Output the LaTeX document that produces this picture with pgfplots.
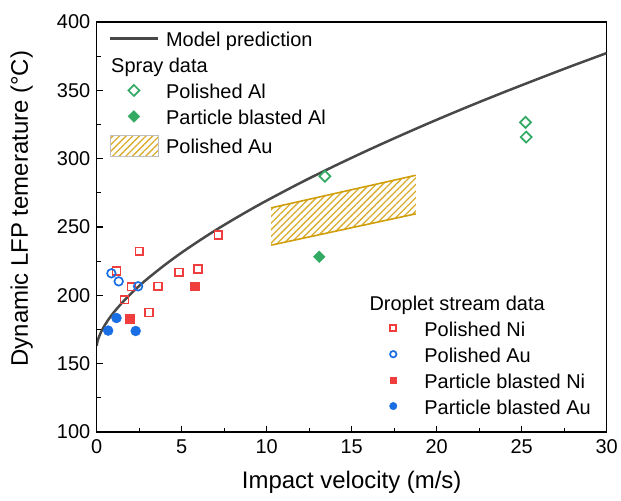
\documentclass[border=0pt]{standalone}
\usepackage{pgfplots}
\pgfplotsset{compat=1.18}
\usepackage{fontspec}
\setmainfont{Liberation Sans}
\usetikzlibrary{patterns.meta}
\definecolor{modelgray}{RGB}{72,72,72}
\definecolor{sprgreen}{RGB}{50,170,100}
\definecolor{nired}{RGB}{240,62,62}
\definecolor{aublue}{RGB}{26,110,228}
\definecolor{hatchline}{RGB}{218,172,45}
\definecolor{hatchedge}{RGB}{208,158,10}

\pgfplotsset{
  legline/.style={legend image code/.code={\draw[##1] (0bp,3bp) -- (48bp,3bp);}},
  legmark/.style={legend image code/.code={\path (0bp,0bp) (48bp,0bp); \draw[##1] plot coordinates {(24bp,3bp)};}},
  legmarksmall/.style={legend image code/.code={\path (0bp,0bp) (48bp,0bp); \draw[##1, every mark/.append style={scale=0.75}] plot coordinates {(24bp,3bp)};}},
  leghatch/.style={legend image code/.code={\path (0bp,0bp) (48bp,0bp); \draw[draw=gray!50,line width=0.6bp,pattern={Lines[angle=45,distance=4.7bp,line width=1.3bp]},pattern color=hatchline] (0bp,-8.5bp) rectangle (48bp,12.5bp);}},
  baseaxis/.style={
    width=511bp, height=411bp, scale only axis,
    xmin=0, xmax=30, ymin=100, ymax=400,
    xtick={0,5,...,30}, ytick={100,150,...,400},
    minor tick num=1,
    tick align=inside,
    xtick pos=bottom, ytick pos=left,
    major tick length=6bp, minor tick length=4bp,
    every tick/.style={black, line width=1.2bp},
    axis line style={black, line width=1.3bp},
    /pgf/number format/assume math mode=true,
    tick label style={font=\fontsize{20bp}{24bp}\selectfont},
    xticklabel style={yshift=-4bp},
    yticklabel style={xshift=-3bp},
    legend style={draw=none, fill=none, inner sep=0pt, outer sep=0pt,
      column sep=7bp, row sep=6bp,
      font=\fontsize{20bp}{24bp}\selectfont,
      nodes={inner sep=0pt, text height=15bp, text depth=5bp}},
    legend cell align=left,
  },
}

\begin{document}
\begin{tikzpicture}
\begin{axis}[baseaxis, name=ax,
  xlabel={Impact velocity (m/s)},
  ylabel={Dynamic LFP temerature (°C)},
  label style={font=\fontsize{24bp}{28bp}\selectfont},
  xlabel style={at={(axis description cs:0.5,-0.1387)}, anchor=base},
  ylabel style={at={(axis description cs:-0.135,0.545)}, anchor=base, rotate=0},
  legend style={at={(axis description cs:0.0235,0.9764)}, anchor=north west},
]
\addplot[modelgray, line width=2.5bp, smooth, legline] coordinates {
(0,163.0) (0.02,165.0) (0.05,166.6) (0.1,168.6) (0.25,173.1) (0.5,178.7)
(0.75,183.4) (1,187.5) (1.5,194.7) (2,201.1) (2.5,206.9) (3,212.3)
(4,222.2) (5,231.3) (6,239.7) (7,247.7) (8,255.2) (9,262.4) (10,269.3)
(12,282.4) (14,294.7) (16,306.4) (18,317.6) (20,328.4) (22,338.8)
(24,348.8) (26,358.5) (28,368.0) (30,377.2)};
\addlegendentry{Model prediction}
\addlegendimage{empty legend}
\addlegendentry{\hspace*{-55bp}Spray data}
\addplot[only marks, mark=square, mark size=3.9bp,
  mark options={rotate=45, draw=sprgreen, fill=white, line width=1.7bp}, legmark]
  coordinates {(13.42,287.1) (25.23,326.5) (25.27,315.8)};
\addlegendentry{Polished Al}
\addplot[only marks, mark=square*, mark size=4.2bp,
  mark options={rotate=45, draw=sprgreen, fill=sprgreen}, legmark]
  coordinates {(13.09,228.2)};
\addlegendentry{Particle blasted Al}
\addplot[draw=none, pattern={Lines[angle=45,distance=4.7bp,line width=1.3bp]},
  pattern color=hatchline, leghatch]
  coordinates {(10.26,264.0) (18.77,287.8) (18.77,259.6) (10.26,236.7)} -- cycle;
\addlegendentry{Polished Au}
\addplot[hatchedge, line width=1.6bp, forget plot] coordinates {(10.26,264.0) (18.77,287.8)};
\addplot[hatchedge, line width=1.6bp, forget plot] coordinates {(10.26,236.7) (18.77,259.6)};
\end{axis}

\begin{axis}[baseaxis, hide axis,
  legend style={at={(axis description cs:0.5342,0.0316)}, anchor=south west},
]
\addlegendimage{empty legend}
\addlegendentry{\hspace*{-55bp}Droplet stream data}
\addplot[only marks, mark=square, mark size=3.9bp,
  mark options={draw=nired, fill=white, line width=1.7bp}, legmarksmall]
  coordinates {(7.16,244.0) (2.51,232.1) (1.16,217.7) (4.83,216.8) (5.95,219.2)
  (2.04,206.4) (3.60,206.6) (1.63,196.9) (3.07,187.4)};
\addlegendentry{Polished Ni}
\addplot[only marks, mark=o, mark size=4.3bp,
  mark options={draw=aublue, fill=white, line width=1.7bp}, legmarksmall]
  coordinates {(0.86,216.1) (1.29,210.2) (2.43,206.6)};
\addlegendentry{Polished Au}
\addplot[only marks, mark=square*, mark size=4.4bp,
  mark options={draw=nired, fill=nired}, legmarksmall]
  coordinates {(1.94,183.0) (5.77,206.6)};
\addlegendentry{Particle blasted Ni}
\addplot[only marks, mark=*, mark size=5bp,
  mark options={draw=aublue, fill=aublue}, legmarksmall]
  coordinates {(1.16,183.4) (0.67,174.2) (2.29,173.9)};
\addlegendentry{Particle blasted Au}
\end{axis}
\path ([xshift=-97bp,yshift=-69bp]ax.south west) rectangle ([xshift=13bp,yshift=22bp]ax.north east);
\end{tikzpicture}
\end{document}
